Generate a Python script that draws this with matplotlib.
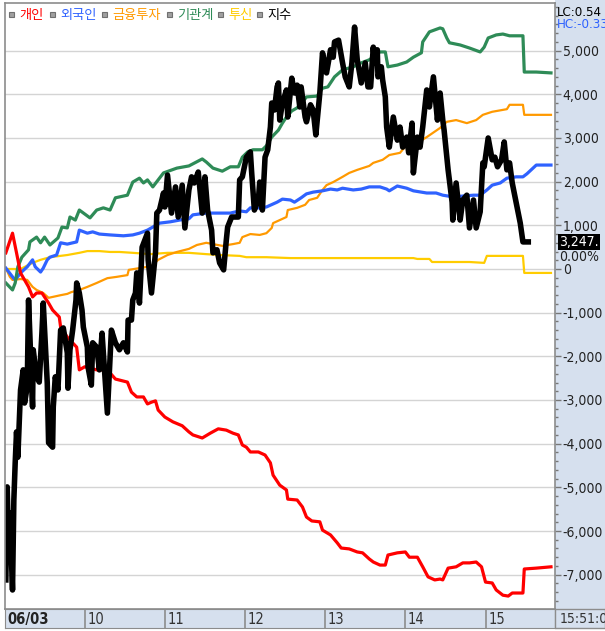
import matplotlib.pyplot as plt
from matplotlib.patches import Rectangle
from matplotlib.ticker import FuncFormatter, MultipleLocator

# time axis: minutes after 09:00, values in 억원-like units (index drawn on same scale)
red_t = [1, 6, 9, 12, 15, 18, 21, 24, 28, 33, 36, 41, 42, 47, 54, 56, 60, 69, 77, 83,
         92, 95, 99, 104, 107, 110, 113, 115, 120, 126, 133, 138, 141, 148, 154, 160,
         166, 171, 175, 178, 181, 184, 190, 195, 199, 201, 206, 211, 212, 219, 223,
         226, 230, 236, 238, 244, 249, 252, 258, 264, 268, 273, 276, 281, 285, 287,
         294, 300, 303, 309, 313, 317, 322, 326, 328, 332, 338, 343, 348, 353, 357,
         360, 365, 368, 373, 377, 380, 388, 389, 398, 409]
red_v = [370, 820, 370, -90, -250, -410, -640, -550, -550, -780, -940, -1100, -1330,
         -1560, -1790, -2310, -2240, -2310, -2310, -2520, -2590, -2820, -2930, -2930,
         -3090, -3050, -3020, -3230, -3390, -3500, -3590, -3730, -3800, -3870, -3760,
         -3660, -3690, -3760, -3800, -4030, -4080, -4190, -4190, -4260, -4440, -4720,
         -4950, -5060, -5270, -5290, -5450, -5680, -5770, -5790, -5980, -6090, -6270,
         -6390, -6410, -6480, -6500, -6640, -6710, -6780, -6780, -6550, -6500, -6480,
         -6600, -6600, -6820, -7050, -7120, -7100, -7120, -6850, -6820, -6730, -6730,
         -6710, -6820, -7170, -7190, -7350, -7470, -7490, -7420, -7420, -6870, -6850,
         -6820]

green_t = [1, 6, 8, 10, 13, 18, 19, 24, 27, 30, 34, 40, 43, 47, 49, 53, 56, 64, 69,
           74, 79, 83, 92, 96, 101, 104, 107, 111, 119, 129, 138, 148, 151, 156, 163,
           169, 175, 178, 182, 186, 193, 196, 200, 205, 208, 211, 215, 219, 223, 226,
           234, 238, 242, 247, 253, 261, 267, 273, 281, 285, 287, 294, 301, 306, 312,
           313, 318, 326, 328, 331, 333, 341, 348, 356, 359, 362, 368, 373, 378, 388,
           389, 398, 409]
green_v = [-320, -480, -320, 50, 270, 440, 620, 730, 600, 730, 550, 710, 960, 940,
           1190, 1120, 1350, 1170, 1350, 1400, 1350, 1630, 1690, 1990, 2080, 1970,
           2040, 1880, 2200, 2310, 2360, 2520, 2450, 2310, 2240, 2340, 2340, 2560,
           2680, 2730, 2730, 2820, 3020, 3180, 3340, 3480, 3620, 3690, 3820, 3940,
           3960, 4140, 4170, 4400, 4560, 4630, 4720, 4790, 4970, 4970, 4630, 4670,
           4740, 4850, 4950, 5200, 5430, 5520, 5500, 5290, 5180, 5130, 5060, 4970,
           5080, 5290, 5360, 5380, 5340, 5340, 4510, 4510, 4490]

blue_t = [1, 6, 8, 12, 17, 21, 23, 27, 29, 32, 34, 39, 42, 47, 54, 56, 62, 66, 71, 79,
          89, 96, 101, 107, 111, 116, 124, 131, 138, 141, 151, 161, 169, 176, 181, 184,
          191, 196, 204, 208, 214, 217, 222, 226, 231, 238, 244, 249, 253, 261, 267,
          273, 281, 286, 288, 294, 301, 306, 316, 323, 328, 336, 343, 351, 356, 361,
          365, 371, 376, 383, 388, 391, 398, 409]
blue_v = [20, -180, -250, -90, 50, 210, 50, -70, 20, 210, 270, 320, 600, 570, 620, 890,
          820, 850, 800, 780, 760, 780, 820, 890, 960, 1050, 1080, 1120, 1150, 1240,
          1280, 1280, 1280, 1330, 1310, 1400, 1400, 1420, 1530, 1600, 1580, 1530,
          1630, 1720, 1760, 1790, 1830, 1810, 1850, 1810, 1830, 1880, 1880, 1830,
          1790, 1900, 1850, 1790, 1740, 1740, 1690, 1650, 1670, 1690, 1690, 1810,
          1920, 1970, 2080, 2110, 2110, 2180, 2380, 2380]

orange_t = [1, 4, 6, 12, 17, 21, 24, 29, 33, 36, 42, 47, 50, 56, 62, 69, 77, 84, 92,
            93, 101, 107, 111, 115, 122, 129, 138, 144, 151, 156, 163, 171, 176, 178,
            184, 191, 196, 200, 201, 206, 211, 212, 219, 225, 228, 234, 238, 241, 246,
            253, 258, 264, 273, 276, 283, 288, 296, 301, 309, 316, 326, 331, 338, 346,
            353, 358, 365, 376, 378, 388, 389, 409]
orange_v = [20, -180, -250, -230, -250, -410, -480, -550, -660, -640, -600, -570,
            -530, -480, -410, -320, -210, -180, -140, -20, 20, 50, 90, 210, 320, 390,
            460, 550, 600, 570, 530, 570, 600, 730, 800, 780, 820, 940, 1050, 1120,
            1190, 1350, 1400, 1470, 1580, 1630, 1810, 1920, 1990, 2110, 2200, 2270,
            2360, 2430, 2500, 2610, 2660, 2840, 2890, 3020, 3230, 3370, 3410, 3340,
            3410, 3530, 3600, 3660, 3760, 3760, 3530, 3530]

yellow_t = [1, 12, 21, 27, 34, 47, 56, 62, 71, 79, 86, 96, 109, 122, 138, 151, 161,
            176, 181, 196, 214, 231, 241, 273, 306, 309, 318, 320, 341, 348, 359, 361,
            388, 389, 409]
yellow_v = [0, 0, 140, 210, 270, 320, 370, 410, 410, 390, 390, 370, 340, 370, 370,
            340, 320, 300, 270, 270, 250, 250, 250, 250, 250, 230, 230, 160, 160, 160,
            140, 300, 300, -90, -90]

index_t = [1, 2, 3, 4, 6, 7, 8, 9, 10, 12, 14, 15, 17, 18, 21, 21.5, 24, 26, 28, 29,
           32, 33, 36, 36.5, 38, 40, 42, 44, 47, 47.5, 49, 51, 53.5, 54, 56, 58, 59,
           62, 62.5, 65, 66, 69, 71, 73, 75, 77, 80, 83, 86, 89, 92, 92.5, 95, 96, 98,
           99, 101, 103, 107, 107.5, 110, 113, 114, 116, 119, 120, 122, 125, 128, 130,
           133, 135, 138, 140, 142, 145, 148, 150, 152, 155, 156, 159, 161, 164, 166,
           167, 170, 172, 175, 176, 178, 181, 184, 185, 187, 190, 191, 193, 195, 197,
           199, 200, 202, 204, 205, 206, 208, 211, 212, 215, 217, 219, 221, 222, 225,
           226, 229, 231, 233, 236, 238, 241, 244, 246, 247, 250, 253, 255, 258, 260,
           262, 264, 267, 270, 272, 274, 276, 277, 279, 279.5, 282, 283, 285, 286, 288,
           291, 294, 296, 298, 301, 302.5, 305, 306, 309, 311, 313, 316, 318, 321, 324,
           326, 328, 329, 332, 335, 335.5, 338, 341, 343, 346, 348, 351, 353, 356, 358,
           359, 362, 365, 367, 369, 372, 374, 376, 378, 380, 383, 386, 388, 392]
index_v = [-7120, -4990, -6210, -5590, -7350, -5290, -4440, -3730, -4310, -2770,
           -2310, -3070, -2700, -710, -3160, -1850, -2470, -2590, -1470, -780, -2610,
           -3980, -4080, -3160, -2470, -2770, -1400, -1350, -1920, -2730, -1850, -1400,
           -710, -320, -550, -940, -1330, -1790, -2240, -2660, -1690, -1790, -2310,
           -1470, -2380, -3300, -1400, -1690, -1850, -1690, -1900, -1170, -1170, -710,
           -550, -90, -780, 500, 820, 210, -550, 370, 1280, 1350, 1740, 1420, 2150,
           1280, 1880, 1190, 1920, 940, 1810, 2110, 1970, 2220, 1280, 2110, 1350, 890,
           370, 440, 140, -20, 660, 960, 1190, 1190, 1190, 2040, 2110, 2560, 2680,
           2200, 1350, 1580, 1990, 1350, 2560, 2730, 3250, 3800, 3640, 4170, 4260,
           3410, 3800, 4100, 3480, 4370, 4030, 4210, 3710, 4170, 3480, 3370, 3760,
           3640, 3070, 4030, 4950, 4490, 5020, 4850, 5200, 5240, 4720, 4400, 4170,
           4720, 5540, 4790, 4260, 4720, 4170, 4170, 5080, 4720, 5020, 4400, 4630,
           4330, 3940, 3250, 2790, 3480, 2950, 3250, 2790, 3020, 2660, 3340, 2200,
           3020, 2790, 3250, 4100, 3710, 4400, 3410, 4030, 3410, 3180, 2270, 1530,
           1120, 1970, 1120, 1580, 1690, 940, 1580, 940, 1310, 2430, 2340, 3000, 2500,
           2560, 2340, 2500, 2910, 2270, 2430, 1970, 1510, 1050, 620, 620]

scale_ticks = list(range(-7000, 6000, 1000))
hours = [60, 120, 180, 240, 300, 360]
hour_labels = ["10", "11", "12", "13", "14", "15"]
legend_names = ["개인", "외국인", "금융투자", "기관계", "투신", "지수"]
legend_colors = ["#ff0000", "#2f62ff", "#ff9900", "#2e8b57", "#ffcc00", "#000000"]

W, H = 605, 631
panel_bg = "#d6e0ee"
frame = "#8c8c8c"
num = dict(family="DejaVu Sans", fontstretch="condensed")

fig = plt.figure(figsize=(W / 100, H / 100), dpi=100)
fig.patch.set_facecolor("white")

# right scale panel (behind the axes so tick labels stay visible)
fig.patches.append(Rectangle((555 / W, 1 - 609 / H), 50 / W, 609 / H,
                             transform=fig.transFigure, facecolor=panel_bg,
                             edgecolor="none", zorder=-5))

ax = fig.add_axes([4.5 / W, 1 - 609 / H, 550.5 / W, 606 / H])
ax.set_facecolor("white")
ax.plot(yellow_t, yellow_v, color="#ffcc00", lw=1.6)
ax.plot(orange_t, orange_v, color="#ff9900", lw=1.6)
ax.plot(blue_t, blue_v, color="#2f62ff", lw=2.3)
ax.plot(green_t, green_v, color="#2e8b57", lw=2.3)
ax.plot(red_t, red_v, color="#ff0000", lw=2.3)
ax.plot(index_t, index_v, color="black", lw=4, solid_joinstyle="round")

ax.set_xlim(0, 412)
ax.set_ylim(-7786, 6091)
ax.set_yticks(scale_ticks)
ax.yaxis.set_minor_locator(MultipleLocator(200))
ax.yaxis.set_major_formatter(FuncFormatter(lambda v, p: f"{v:,.0f}"))
ax.yaxis.tick_right()
ax.tick_params(axis="y", which="major", length=4, width=1, color="#777777",
               pad=1.5, labelsize=10, labelcolor="#222222")
ax.tick_params(axis="y", which="minor", length=2.5, width=1, color="#777777")
for lab in ax.get_yticklabels():
    lab.set_fontstretch("condensed")
ax.set_xticks([])
ax.grid(axis="y", color="#d4d4d4", lw=1)
for s in ax.spines.values():
    s.set_color(frame)
    s.set_linewidth(1.2)

# current value labels on the scale
ax.text(1.008, index_v[-1], "3,247.", transform=ax.get_yaxis_transform(),
        color="white", fontsize=10, va="center", ha="left", clip_on=False,
        bbox=dict(boxstyle="square,pad=0.1", facecolor="black", edgecolor="none"),
        **num)
ax.annotate("0.00%", (1.008, index_v[-1]), xycoords=ax.get_yaxis_transform(),
            xytext=(0, -6), textcoords="offset points", color="#222222",
            fontsize=10, va="top", ha="left", annotation_clip=False, **num)
fig.text(557 / W, 1 - 12 / H, "LC:0.54", fontsize=9.5, color="black",
         va="center", **num)
fig.text(557 / W, 1 - 25 / H, "HC:-0.33", fontsize=9.5, color="#2f62ff",
         va="center", **num)

# legend row
lx = [9, 50, 102, 167, 218, 257]
for x, name, c in zip(lx, legend_names, legend_colors):
    fig.patches.append(Rectangle((x / W, 1 - 17 / H), 5 / W, 5 / H,
                                 transform=fig.transFigure, facecolor="#a0a0a0",
                                 edgecolor="#707070", lw=0.8))
    fig.text((x + 10) / W, 1 - 15 / H, name, color=c, fontsize=9.5,
             family=["Noto Sans CJK KR", "DejaVu Sans"], va="center")

# time bar
bar = fig.add_axes([4.5 / W, 1 - 628 / H, 550.5 / W, 19 / H], sharex=ax)
bar.set_facecolor(panel_bg)
bar.set_yticks([])
bar.tick_params(axis="x", bottom=False, labelbottom=False)
for s in bar.spines.values():
    s.set_color(frame)
for h, lab in zip(hours, hour_labels):
    bar.axvline(h, color=frame, lw=1.2)
    bar.text(h + 2, 0.45, lab, fontsize=10.5, va="center", color="#333333", **num)
bar.text(2, 0.45, "06/03", fontsize=10.5, va="center", color="#222222",
         fontweight="bold", **num)
bar.set_xlim(0, 412)
fig.patches.append(Rectangle((555 / W, 1 - 628 / H), 50 / W, 19 / H,
                             transform=fig.transFigure, facecolor=panel_bg,
                             edgecolor=frame, lw=1))
fig.text(560 / W, 1 - 619 / H, "15:51:0", fontsize=10, color="#333333",
         va="center", **num)

fig.savefig("out.png", dpi=100)
